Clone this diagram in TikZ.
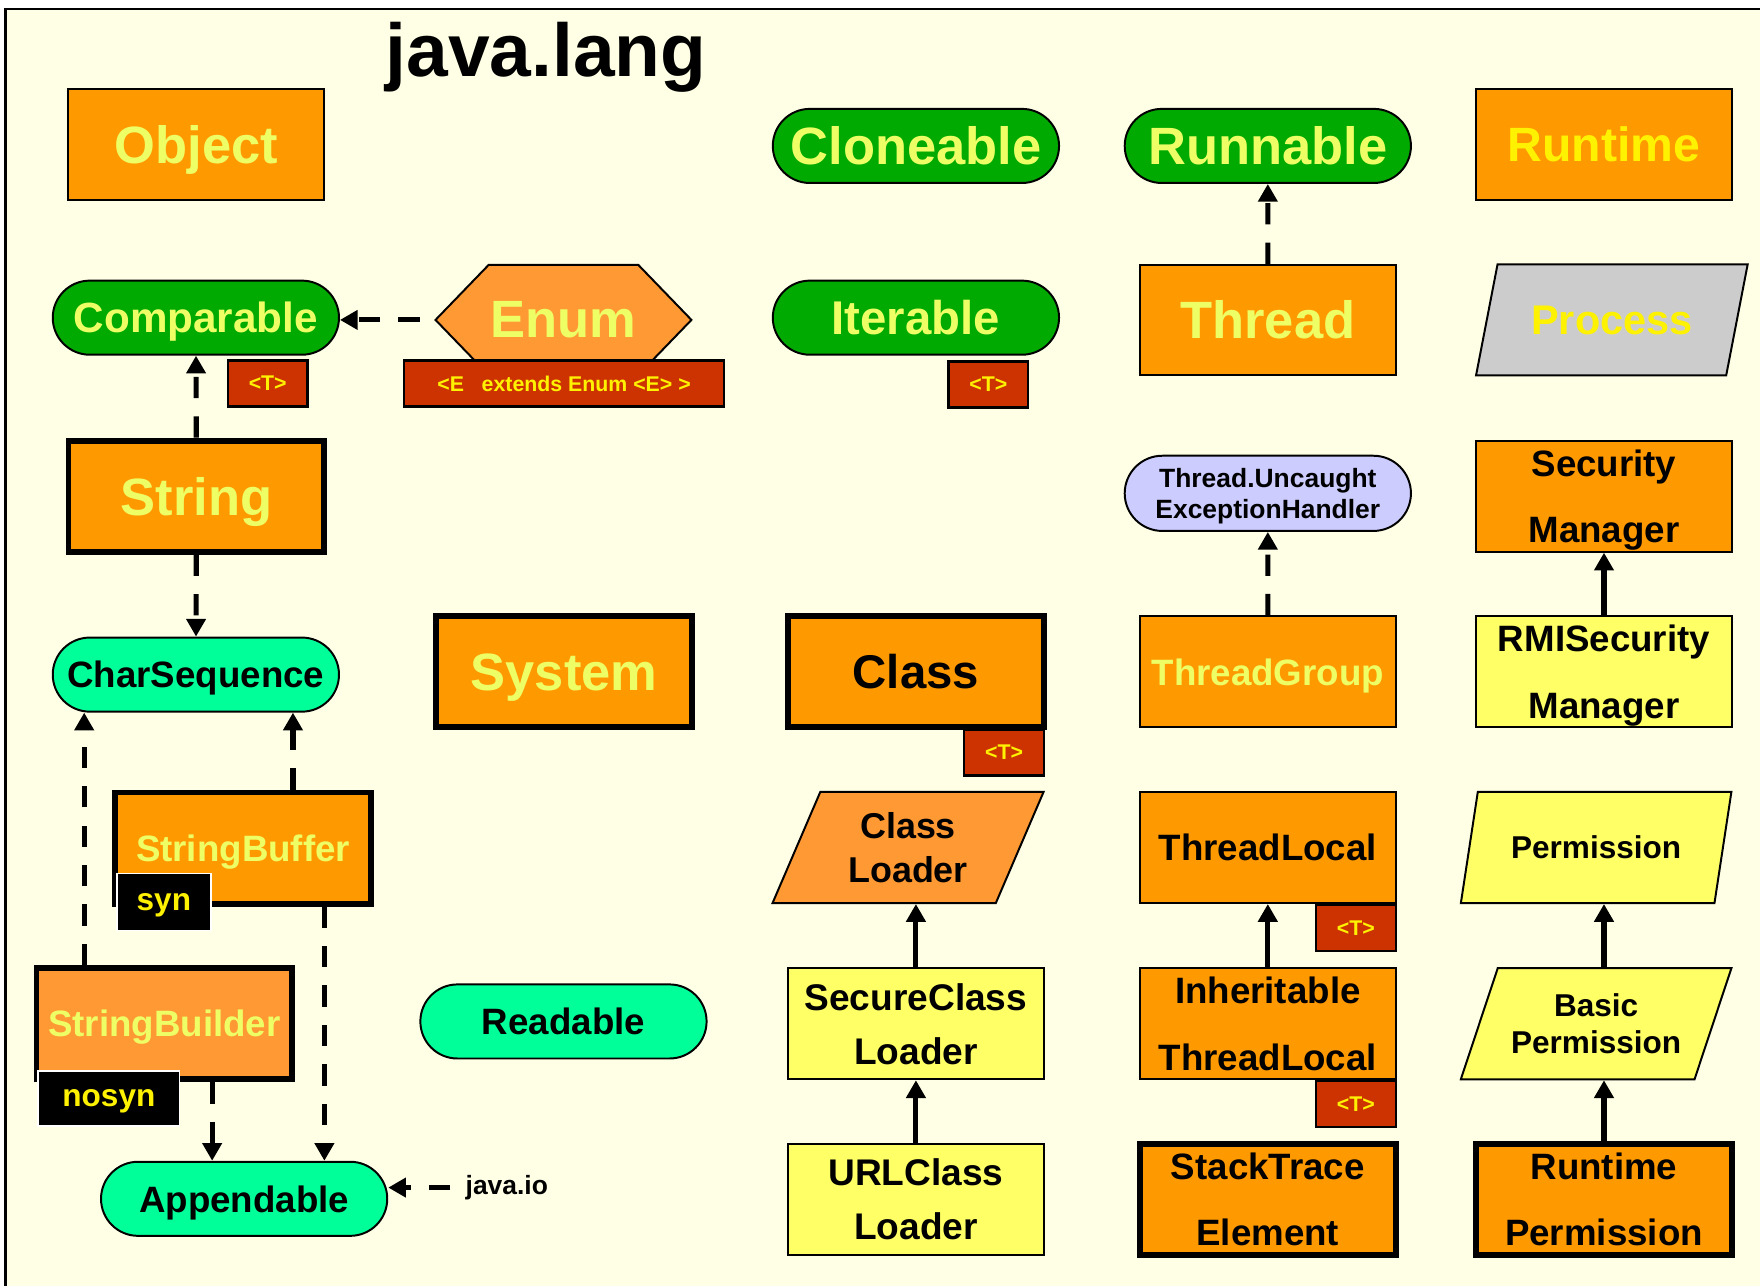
\documentclass[tikz,border=0pt]{standalone}
\usepackage{fontspec}
\setmainfont{Liberation Sans}
\usepackage{xcolor}
\usetikzlibrary{
    shapes.geometric,
    shapes.misc,
    shapes.symbols,
    arrows.meta,
    positioning,
    calc
}
\definecolor{paper}{HTML}{FFFFE6}
\definecolor{orng}{HTML}{FF9900}
\definecolor{lorng}{HTML}{FF9933}
\definecolor{grn}{HTML}{00AA00}
\definecolor{mint}{HTML}{00FF99}
\definecolor{lav}{HTML}{CCCCFF}
\definecolor{lyel}{HTML}{FFFF66}
\definecolor{rust}{HTML}{CC3300}
\definecolor{pale}{HTML}{EEFF66}

\begin{document}
\begin{tikzpicture}[
    box/.style={draw, line width=0.5pt, minimum width=2.28cm, minimum height=0.99cm, align=center, inner sep=0pt, text depth=0pt},
    fat/.style={box, line width=1.5pt},
    pill/.style={rounded rectangle, draw, line width=0.5pt, minimum width=2.55cm, minimum height=0.66cm, align=center, inner sep=0pt, text depth=0pt},
    para/.style={trapezium, trapezium left angle=62, trapezium right angle=118, trapezium stretches=true, draw, line width=0.5pt, minimum width=2.42cm, minimum height=0.99cm, align=center, inner sep=0pt, text depth=0pt},
    gen/.style={draw, line width=0.6pt, fill=rust, text=yellow, minimum width=0.71cm, minimum height=0.41cm, inner sep=0pt, text depth=0pt, font=\bfseries\fontsize{5.4}{6}\selectfont},
    tag/.style={draw=white, line width=0.4pt, fill=black, text=yellow, inner sep=0pt, text depth=0pt, font=\bfseries\fontsize{8}{9}\selectfont},
    huge/.style={font=\bfseries\fontsize{13.3}{15}\selectfont},
    mid/.style={font=\bfseries\fontsize{9.3}{11}\selectfont},
    dep/.style={-{Triangle[length=4.5pt,width=4.8pt]}, line width=1.3pt, dash pattern=on 5.4pt off 4.6pt},
    ext/.style={-{Triangle[length=4.5pt,width=4.8pt]}, line width=1.3pt}
]
    \useasboundingbox (0,0) rectangle (15.68,-11.45);
    \fill[white] (0,0) rectangle (15.68,-11.45);
    \draw[fill=paper, line width=0.7pt] (0.05,-0.08) rectangle (15.8,-11.6);

    \node[font=\bfseries\fontsize{19}{23}\selectfont, anchor=base] (title) at (4.865,-0.68) {java.lang};

    % first row
    \node[box, fill=orng, text=pale, huge] (object) at (1.75,-1.285) {Object};
    \node[pill, fill=grn, text=pale, huge] (cloneable) at (8.16,-1.30) {Cloneable};
    \node[pill, fill=grn, text=pale, huge] (runnable) at (11.295,-1.30) {Runnable};
    \node[box, fill=orng, text=yellow, font=\bfseries\fontsize{12.2}{14}\selectfont] (runtime) at (14.29,-1.285) {Runtime};

    % second row
    \node[pill, fill=grn, text=pale, font=\bfseries\fontsize{10.7}{12}\selectfont] (comparable) at (1.745,-2.83) {Comparable};
    \node[gen] (compT) at (2.385,-3.415) {<T>};
    \node[signal, signal to=east and west, signal pointer angle=92, draw, line width=0.5pt, fill=lorng, text=pale, huge, text depth=0pt, minimum width=2.28cm, minimum height=0.98cm, inner sep=0pt] (enum) at (5.02,-2.85) {Enum};
    \node[gen, minimum width=2.85cm] (enumT) at (5.025,-3.415) {<E\ \ \ extends Enum <E> >};
    \node[pill, fill=grn, text=pale, font=\bfseries\fontsize{12}{14}\selectfont] (iterable) at (8.16,-2.83) {Iterable};
    \node[gen] (iterT) at (8.805,-3.425) {<T>};
    \node[box, fill=orng, text=pale, huge, minimum height=0.98cm] (thread) at (11.295,-2.85) {Thread};
    \node[para, fill=black!20, text=yellow, font=\bfseries\fontsize{10.5}{12}\selectfont] (process) at (14.36,-2.85) {Process};

    % third row
    \node[fat, fill=orng, text=pale, huge] (string) at (1.75,-4.42) {String};
    \node[pill, fill=lav, minimum height=0.67cm, font=\bfseries\fontsize{6.7}{8}\selectfont] (ueh) at (11.295,-4.395) {Thread.Uncaught\\ExceptionHandler};
    \node[box, fill=orng, font=\bfseries\fontsize{9.3}{16.8}\selectfont] (secmgr) at (14.29,-4.42) {Security\\Manager};

    % fourth row
    \node[pill, fill=mint, mid] (charseq) at (1.745,-6.01) {CharSequence};
    \node[fat, fill=orng, text=pale, huge] (system) at (5.025,-5.985) {System};
    \node[fat, fill=orng, font=\bfseries\fontsize{12}{14}\selectfont] (class) at (8.16,-5.985) {Class};
    \node[gen] (classT) at (8.945,-6.705) {<T>};
    \node[box, fill=orng, text=pale, mid] (tgroup) at (11.295,-5.985) {ThreadGroup};
    \node[box, fill=lyel, font=\bfseries\fontsize{9.3}{16.8}\selectfont] (rmisec) at (14.29,-5.985) {RMISecurity\\Manager};

    % fifth row
    \node[fat, fill=orng, text=pale, mid] (sbuf) at (2.165,-7.555) {StringBuffer};
    \node[tag, minimum width=0.84cm, minimum height=0.51cm] (syn) at (1.46,-8.035) {syn};
    \node[para, trapezium left angle=65, trapezium right angle=115, fill=lorng, font=\bfseries\fontsize{9.1}{11.1}\selectfont] (cloader) at (8.09,-7.55) {Class\\Loader};
    \node[box, fill=orng, mid] (tlocal) at (11.295,-7.55) {ThreadLocal};
    \node[gen] (tlocalT) at (12.08,-8.265) {<T>};
    \node[para, fill=lyel, font=\bfseries\fontsize{8}{9.4}\selectfont] (perm) at (14.22,-7.55) {Permission};

    % sixth row
    \node[fat, fill=lorng, text=pale, mid] (sbuild) at (1.465,-9.12) {StringBuilder};
    \node[tag, minimum width=1.26cm, minimum height=0.49cm] (nosyn) at (0.97,-9.785) {nosyn};
    \node[pill, fill=mint, mid] (readable) at (5.02,-9.10) {Readable};
    \node[box, fill=lyel, font=\bfseries\fontsize{9.4}{13.7}\selectfont] (scloader) at (8.16,-9.12) {SecureClass\\Loader};
    \node[box, fill=orng, font=\bfseries\fontsize{9.3}{16.8}\selectfont] (itlocal) at (11.295,-9.12) {Inheritable\\ThreadLocal};
    \node[gen] (itlocalT) at (12.08,-9.835) {<T>};
    \node[para, fill=lyel, font=\bfseries\fontsize{8}{9.4}\selectfont] (bperm) at (14.22,-9.12) {Basic\\Permission};

    % last row
    \node[pill, fill=mint, mid] (app) at (2.175,-10.68) {Appendable};
    \node[inner sep=1.3mm, font=\bfseries\fontsize{6.7}{8}\selectfont] (jio) at (4.515,-10.58) {java.io};
    \node[box, fill=lyel, font=\bfseries\fontsize{9.4}{13.7}\selectfont] (urlcl) at (8.16,-10.685) {URLClass\\Loader};
    \node[fat, fill=orng, font=\bfseries\fontsize{9.3}{16.8}\selectfont] (stelem) at (11.295,-10.685) {StackTrace\\Element};
    \node[fat, fill=orng, font=\bfseries\fontsize{9.3}{16.8}\selectfont] (rtperm) at (14.29,-10.685) {Runtime\\Permission};

    % string family
    \coordinate (bldUp) at ([xshift=-0.715cm]sbuild.north);
    \coordinate (bufUp) at ([xshift=0.445cm]sbuf.north);
    \coordinate (bldDn) at ([xshift=0.425cm]sbuild.south);
    \coordinate (bufDn) at ([xshift=0.725cm]sbuf.south);
    \draw[dep, shorten <=0.13cm] (enum.west) -- (enum.west -| comparable.east);
    \draw[dep] (string) -- (comparable);
    \draw[dep] (string) -- (charseq);
    \draw[dep] (bldUp) -- (bldUp |- charseq.south);
    \draw[dep] (bufUp) -- (bufUp |- charseq.south);
    \draw[dep] (bldDn) -- (bldDn |- app.north);
    \draw[dep] (bufDn) -- (bufDn |- app.north);
    \draw[dep] (jio.west) -- (jio.west -| app.east);

    % class loaders
    \draw[ext] (scloader.north) -- (scloader.north |- cloader.south);
    \draw[ext] (urlcl) -- (scloader);

    % threads
    \draw[dep] (thread) -- (runnable);
    \draw[dep] (tgroup) -- (ueh);
    \draw[ext] (itlocal) -- (tlocal);

    % security
    \draw[ext] (rmisec) -- (secmgr);
    \draw[ext] (rtperm.north) -- (rtperm.north |- bperm.south);
    \draw[ext] (rtperm.north |- bperm.north) -- (rtperm.north |- perm.south);
\end{tikzpicture}
\end{document}
